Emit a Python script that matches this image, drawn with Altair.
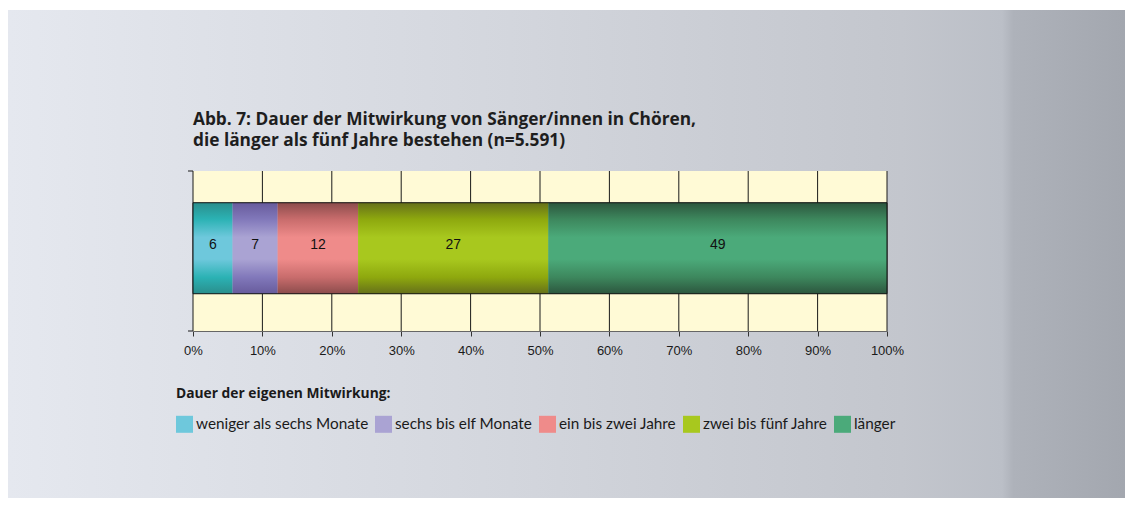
import altair as alt
import pandas as pd

# ---- data ----
categories = ["weniger als sechs Monate", "sechs bis elf Monate", "ein bis zwei Jahre",
              "zwei bis fünf Jahre", "länger"]
shares = [5.7, 6.5, 11.6, 27.4, 48.8]          # bar segment widths (percent)
labels = ["6", "7", "12", "27", "49"]           # printed values
ticks = [0, 10, 20, 30, 40, 50, 60, 70, 80, 90, 100]

# colours: (dark edge, mid, light centre)
shades = [
    ("#2A8E8C", "#2BB2B4", "#6EC8DC"),
    ("#675B9C", "#8178BA", "#AAA3D3"),
    ("#8C4C4C", "#C86C6C", "#EF8B8A"),
    ("#66701A", "#8EA80E", "#A8C81E"),
    ("#2C563E", "#3D875D", "#4BAA7A"),
]

W, H = 694, 160
PAD = {"left": 185, "right": 238, "top": 163, "bottom": 167}
BG_TOP = -PAD["top"] + 2

ends = pd.Series(shares).cumsum()
df = pd.DataFrame({
    "cat": categories,
    "start": ends - pd.Series(shares),
    "end": ends,
    "label": labels,
    "row": ["r"] * len(categories),
})
df["mid"] = (df["start"] + df["end"]) / 2
tick_df = pd.DataFrame({"t": ticks})

xscale = alt.Scale(domain=[0, 100], nice=False, zero=False)
yscale = alt.Scale(paddingInner=0, paddingOuter=0.379, align=0.46)

# background of the whole figure
bg = alt.Chart(alt.Data(values=[{"a": 1}])).mark_rect(
    fill=alt.LinearGradient(
        gradient="linear", x1=0, x2=1, y1=0, y2=0,
        stops=[
            alt.GradientStop(offset=0, color="#E5E8EF"),
            alt.GradientStop(offset=0.45, color="#D3D6DD"),
            alt.GradientStop(offset=0.8, color="#C3C6CD"),
            alt.GradientStop(offset=0.89, color="#BBBFC7"),
            alt.GradientStop(offset=0.90, color="#AEB2BA"),
            alt.GradientStop(offset=1, color="#A3A7AF"),
        ],
    )
).encode(
    x=alt.value(-PAD["left"]), x2=alt.value(W + PAD["right"]),
    y=alt.value(BG_TOP), y2=alt.value(H + PAD["bottom"]),
)

# cream plot area
plotbg = alt.Chart(alt.Data(values=[{"a": 1}])).mark_rect(fill="#FFFAD6").encode(
    x=alt.value(0), x2=alt.value(W), y=alt.value(0), y2=alt.value(H)
)

# vertical grid lines
grid = alt.Chart(tick_df).mark_rule(color="#1a1a1a", strokeWidth=1).encode(
    x=alt.X("t:Q", scale=xscale)
)

# small ticks on the left axis line
lticks = alt.Chart(alt.Data(values=[{"p": 0}, {"p": 1}])).mark_rule(
    color="#1a1a1a").encode(
    x=alt.value(-5), x2=alt.value(0),
    y=alt.Y("p:Q", scale=alt.Scale(domain=[0, 1]), axis=None),
)

base_bar = alt.Chart(df).mark_bar().encode(
    x=alt.X("start:Q", scale=xscale,
            axis=alt.Axis(values=ticks, labelExpr="datum.value + '%'", title=None,
                          grid=False, domainColor="#666666", tickColor="#333333",
                          tickSize=5, labelFont="Liberation Sans", labelFontSize=13,
                          labelColor="#1a1a1a", labelPadding=8, labelFlush=False,
                          zindex=1)),
    x2="end:Q",
    y=alt.Y("row:N", scale=yscale, axis=None),
    color=alt.Color("cat:N", sort=categories,
                    scale=alt.Scale(domain=categories, range=[s[2] for s in shades]),
                    legend=alt.Legend(
                        title="Dauer der eigenen Mitwirkung:", orient="none",
                        direction="horizontal", columns=5, legendX=-17, legendY=216,
                        titleFont="Open Sans", titleFontSize=13.8, titleFontWeight="bold",
                        titleColor="#1a1a1a", titlePadding=15, titleLimit=500,
                        labelFont="Lato", labelFontSize=15.3, labelColor="#1a1a1a",
                        labelOffset=3, columnPadding=6, symbolType="square",
                        symbolSize=289, symbolStrokeWidth=0, symbolOpacity=1,
                        labelLimit=400)),
)

grad_layers = []
for c, (dark, midc, light) in zip(categories, shades):
    g = alt.LinearGradient(
        gradient="linear", x1=0, x2=0, y1=0, y2=1,
        stops=[
            alt.GradientStop(offset=0, color=dark),
            alt.GradientStop(offset=0.18, color=midc),
            alt.GradientStop(offset=0.38, color=light),
            alt.GradientStop(offset=0.62, color=light),
            alt.GradientStop(offset=0.82, color=midc),
            alt.GradientStop(offset=1, color=dark),
        ],
    )
    grad_layers.append(
        alt.Chart(df).transform_filter(alt.datum.cat == c).mark_bar(fill=g).encode(
            x=alt.X("start:Q", scale=xscale), x2="end:Q",
            y=alt.Y("row:N", scale=yscale, axis=None),
        )
    )

outline = alt.Chart(df).mark_bar(fill="transparent", stroke="#111111", strokeWidth=1).encode(
    x=alt.X("min(start):Q", scale=xscale), x2="max(end):Q",
    y=alt.Y("row:N", scale=yscale, axis=None),
)

text = alt.Chart(df).mark_text(font="Liberation Sans", fontSize=14, color="#111111").encode(
    x=alt.X("mid:Q", scale=xscale),
    y=alt.Y("row:N", scale=yscale, axis=None),
    text="label:N",
)

# title sits above the plot; the background rect moves the layout bounds up,
# so the offset is measured from the rect's top
TITLE_GAP = 22
chart = alt.layer(bg, plotbg, grid, base_bar, *grad_layers, outline, text, lticks).resolve_scale(
    y="independent"
).properties(
    width=W, height=H,
    padding=PAD,
    autosize=alt.AutoSizeParams(type="none"),
    title=alt.TitleParams(
        ["Abb. 7: Dauer der Mitwirkung von Sänger/innen in Chören,",
         "die länger als fünf Jahre bestehen (n=5.591)"],
        anchor="start", frame="group", font="Open Sans", fontSize=17.3, fontWeight="bold",
        color="#1e1e1e", lineHeight=21, offset=-(-BG_TOP - TITLE_GAP),
    ),
).configure_view(stroke=None).configure(background="white")

chart.save("out.html", embed_options={"renderer": "svg", "actions": False})
